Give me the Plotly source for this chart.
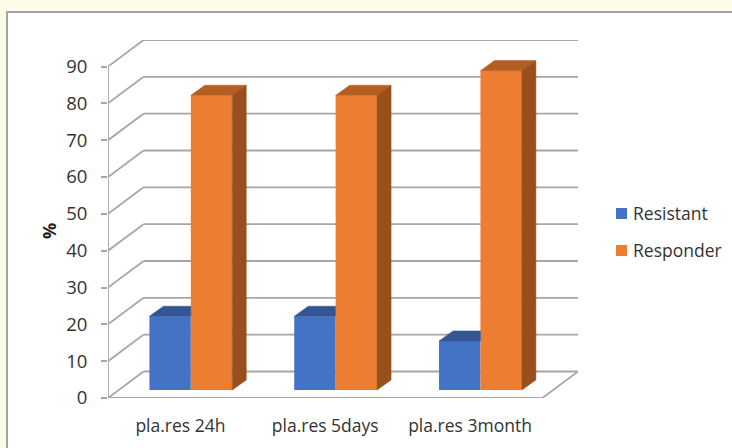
import plotly.graph_objects as go

# Chart content
categories = ["pla.res 24h", "pla.res 5days", "pla.res 3month"]
series_names = ["Resistant", "Responder"]
axis_title = "%"
resistant = [20, 20, 13.3]
responder = [80, 80, 86.7]
y_ticks = [0, 10, 20, 30, 40, 50, 60, 70, 80, 90]

# Faux-3D box geometry, in axis units
WALL_DX, WALL_DY = 0.2455, 7.2      # front plane to back wall
BAR_BASE = 2.17                     # bars stand slightly behind the front edge
BAR_DX, BAR_DY = 0.0967, 2.75       # visible depth of one bar
BAR_W = 0.286
OFFSETS = [-0.214, 0.072]

BLUE, BLUE_TOP = "#4472C4", "#335593"
ORANGE, ORANGE_TOP, ORANGE_SIDE = "#ED7D31", "#B55E22", "#984F1C"
GRID = "#A6A6A6"
TEXT = "#333333"
FONT = "Open Sans"

# Pixel frame of the plot area, used to place the card and legend in paper units
PLOT_L, PLOT_W, PLOT_B, PLOT_H = 108, 470, 398, 358


def px(x):
    return (x - PLOT_L) / PLOT_W


def py(y):
    return (PLOT_B - y) / PLOT_H


xs = list(range(len(categories)))
x_left, x_right = -0.5, 2.5

fig = go.Figure()

# Front faces of the bars
for name, vals, off, col in zip(series_names, [resistant, responder], OFFSETS, [BLUE, ORANGE]):
    fig.add_trace(go.Bar(
        x=xs, y=vals, base=BAR_BASE, width=BAR_W, offset=off, name=name,
        marker=dict(color=col, line=dict(width=0)), showlegend=False,
    ))


def face(fx, fy, color):
    fig.add_trace(go.Scatter(
        x=fx, y=fy, mode="lines", fill="toself", fillcolor=color,
        line=dict(color=color, width=0.5), hoverinfo="skip",
        showlegend=False, cliponaxis=False,
    ))


# Top and side faces follow each bar's value
for x, r, o in zip(xs, resistant, responder):
    # blue top is hidden where the orange bar stands in front of it
    l = x + OFFSETS[0]
    top = BAR_BASE + r
    edge = x + OFFSETS[1]
    face([l, edge, edge, l + BAR_DX, l], [top, top, top + BAR_DY, top + BAR_DY, top], BLUE_TOP)

    l = x + OFFSETS[1]
    rgt = l + BAR_W
    top = BAR_BASE + o
    face([l, rgt, rgt + BAR_DX, l + BAR_DX, l], [top, top, top + BAR_DY, top + BAR_DY, top], ORANGE_TOP)
    face([rgt, rgt + BAR_DX, rgt + BAR_DX, rgt, rgt],
         [BAR_BASE, BAR_BASE + BAR_DY, top + BAR_DY, top, BAR_BASE], ORANGE_SIDE)

# Card behind the chart
shapes = [
    dict(type="rect", xref="paper", yref="paper", layer="below",
         x0=px(7), x1=1.5, y0=-1, y1=py(12), fillcolor="white", line=dict(width=0)),
    dict(type="line", xref="paper", yref="paper", layer="below",
         x0=px(6), x1=1.5, y0=py(12), y1=py(12), line=dict(color="#A4A4A4", width=2)),
    dict(type="line", xref="paper", yref="paper", layer="below",
         x0=px(7), x1=px(7), y0=-1, y1=py(12), line=dict(color="#A4A4A4", width=2)),
]


def seg(x0, y0, x1, y1):
    shapes.append(dict(type="line", xref="x", yref="y", x0=x0, y0=y0, x1=x1, y1=y1,
                       layer="below", line=dict(color=GRID, width=1.8)))


# Gridlines run from the left wall along the back wall
for v in y_ticks:
    seg(x_left, v, x_left + WALL_DX, v + WALL_DY)
    seg(x_left + WALL_DX, v + WALL_DY, x_right + WALL_DX, v + WALL_DY)

# Floor outline and the left axis line
seg(x_left, 0, x_right, 0)
seg(x_right, 0, x_right + WALL_DX, WALL_DY)
seg(x_left, 0, x_left, 90)

# Legend swatches and labels
annotations = []
for name, col, cy in zip(series_names, [BLUE, ORANGE], [213.5, 250.5]):
    shapes.append(dict(type="rect", xref="paper", yref="paper",
                       x0=px(616), x1=px(627), y0=py(cy + 5.5), y1=py(cy - 5.5),
                       fillcolor=col, line=dict(width=0)))
    annotations.append(dict(text=name, xref="paper", yref="paper", showarrow=False,
                            x=px(631), y=py(cy - 0.5), xanchor="left", yanchor="middle",
                            font=dict(family=FONT, size=17.5, color=TEXT)))

# Value axis title
annotations.append(dict(text=f"<b>{axis_title}</b>", xref="paper", yref="paper", showarrow=False,
                        x=px(49), y=py(231), xanchor="center", yanchor="middle", textangle=-90,
                        font=dict(family=FONT, size=18, color="#222222")))

fig.update_layout(
    width=732, height=448,
    margin=dict(l=PLOT_L, r=732 - PLOT_L - PLOT_W, t=PLOT_B - PLOT_H, b=448 - PLOT_B),
    paper_bgcolor="#FEFBE9", plot_bgcolor="rgba(0,0,0,0)",
    barmode="overlay", showlegend=False,
    shapes=shapes, annotations=annotations,
    font=dict(family=FONT, size=17, color=TEXT),
    xaxis=dict(range=[x_left, x_right + WALL_DX], tickmode="array", tickvals=xs, ticktext=categories,
               showgrid=False, zeroline=False, showline=False, ticks="", ticklabelstandoff=15,
               tickfont=dict(family=FONT, size=17.5, color=TEXT)),
    yaxis=dict(range=[0, 90 + WALL_DY], tickmode="array", tickvals=y_ticks,
               showgrid=False, zeroline=False, showline=False, ticks="outside", ticklen=6, tickwidth=1.5,
               tickcolor=GRID, ticklabelstandoff=10,
               tickfont=dict(family=FONT, size=18.5, color=TEXT)),
)

fig.write_html("out.html")
